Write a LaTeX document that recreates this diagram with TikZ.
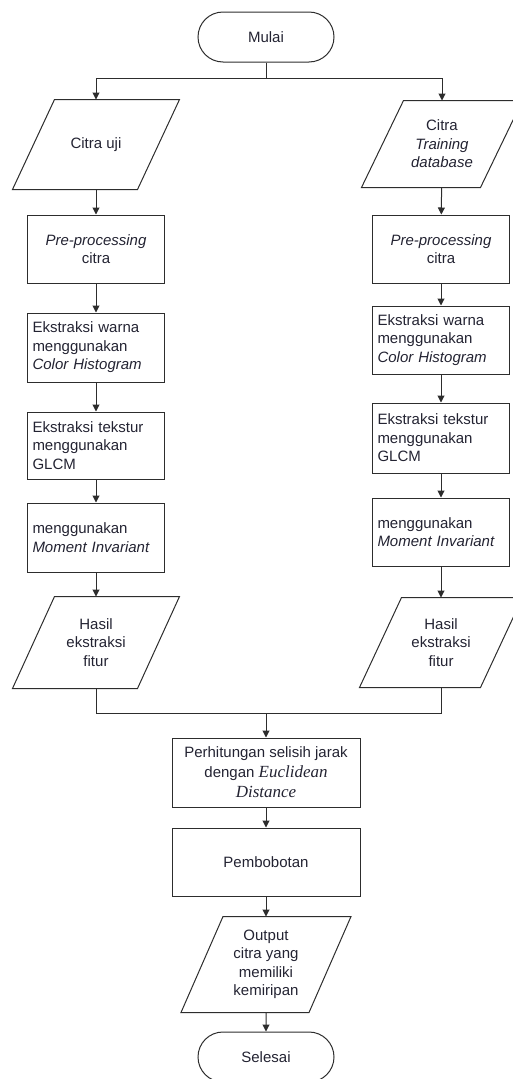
\documentclass[tikz,border=0pt]{standalone}
\usepackage{fontspec}
\setmainfont{Liberation Sans}
\newfontfamily\tnrfont{Liberation Serif}
\usetikzlibrary{arrows.meta,shapes.misc}
\definecolor{figline}{RGB}{45,45,45}
\definecolor{figtext}{RGB}{35,35,50}
\newcommand{\tnri}[1]{{\tnrfont\itshape\fontsize{17}{20}\selectfont #1}}
\tikzset{
  base/.style ={draw=figline, line width=1pt, text=figtext, font=\fontsize{15}{18.5}\selectfont, inner sep=0pt},
  term/.style ={base, rounded rectangle, minimum width=136pt, minimum height=50pt},
  proc/.style ={base, rectangle, minimum width=137pt, minimum height=68pt, align=center},
  procl/.style={proc, align=left, text width=127pt},
  io/.style   ={base, draw=none, rectangle, minimum width=124pt, minimum height=89pt, align=center},
  link/.style ={draw=figline, line width=1pt},
  flow/.style ={link, -{Triangle[length=7pt,width=7pt]}},
}
\begin{document}
\begin{tikzpicture}[x=1pt,y=-1pt]
  \useasboundingbox (0,0) rectangle (513,1079);
  \node[term] (mulai) at (266,37) {Mulai};
  % kiri: citra uji
  \node[io] (uji) at (96,144.5) {Citra uji};
  \node[proc] (pre1) at (96,249) {\textit{Pre-processing}\\citra};
  \node[procl,minimum height=69pt] (warna1) at (96,347.5) {Ekstraksi warna\\menggunakan\\\textit{Color Histogram}};
  \node[procl,minimum height=67pt] (tekstur1) at (96,445.5) {Ekstraksi tekstur\\menggunakan\\GLCM};
  \node[procl,minimum height=69pt] (moment1) at (96,537.5) {menggunakan\\\textit{Moment Invariant}};
  \node[io,minimum height=91pt] (hasil1) at (96,642.5) {Hasil\\ekstraksi\\fitur};
  % kanan: citra training
  \node[io,minimum height=86pt,minimum width=118pt] (train) at (442,144) {Citra\\\textit{Training}\\\textit{database}};
  \node[proc] (pre2) at (441,249) {\textit{Pre-processing}\\citra};
  \node[procl] (warna2) at (441,340) {Ekstraksi warna\\menggunakan\\\textit{Color Histogram}};
  \node[procl,minimum height=70pt] (tekstur2) at (441,438) {Ekstraksi tekstur\\menggunakan\\GLCM};
  \node[procl] (moment2) at (441,532) {menggunakan\\\textit{Moment Invariant}};
  \node[io,minimum width=120pt] (hasil2) at (441,642.5) {Hasil\\ekstraksi\\fitur};
  % tengah
  \node[proc,minimum width=188pt,minimum height=69pt,font=\fontsize{15}{20}\selectfont] (hitung) at (266,772.5)
    {Perhitungan selisih jarak\\dengan \tnri{Euclidean}\\\tnri{Distance}};
  \node[proc,minimum width=188pt] (bobot) at (266,862) {Pembobotan};
  \node[io,minimum height=95pt,minimum width=127pt] (output) at (266,964.5) {Output\\citra yang\\memiliki\\kemiripan};
  \node[term] (selesai) at (266,1057) {Selesai};
  % jajaran genjang input/output
  \foreach \n in {uji,train,hasil1,hasil2,output}
    \draw[link] ([xshift=-21pt]\n.south west) -- ([xshift=-21pt]\n.south east)
      -- ([xshift=21pt]\n.north east) -- ([xshift=21pt]\n.north west) -- cycle;
  \coordinate (split) at (266,78);
  \coordinate (join) at (266,713);
  \draw[link] (mulai) -- (split);
  \draw[flow] (split) -| (uji);
  \draw[flow] (split) -| (train);
  \draw[flow] (uji) -- (pre1);
  \draw[flow] (pre1) -- (warna1);
  \draw[flow] (warna1) -- (tekstur1);
  \draw[flow] (tekstur1) -- (moment1);
  \draw[flow] (moment1) -- (hasil1);
  \draw[flow] (train) -- (pre2);
  \draw[flow] (pre2) -- (warna2);
  \draw[flow] (warna2) -- (tekstur2);
  \draw[flow] (tekstur2) -- (moment2);
  \draw[flow] (moment2) -- (hasil2);
  \draw[link] (hasil1) |- (join);
  \draw[link] (hasil2) |- (join);
  \draw[flow] (join) -- (hitung);
  \draw[flow] (hitung) -- (bobot);
  \draw[flow] (bobot) -- (output);
  \draw[flow] (output) -- (selesai);
\end{tikzpicture}
\end{document}
